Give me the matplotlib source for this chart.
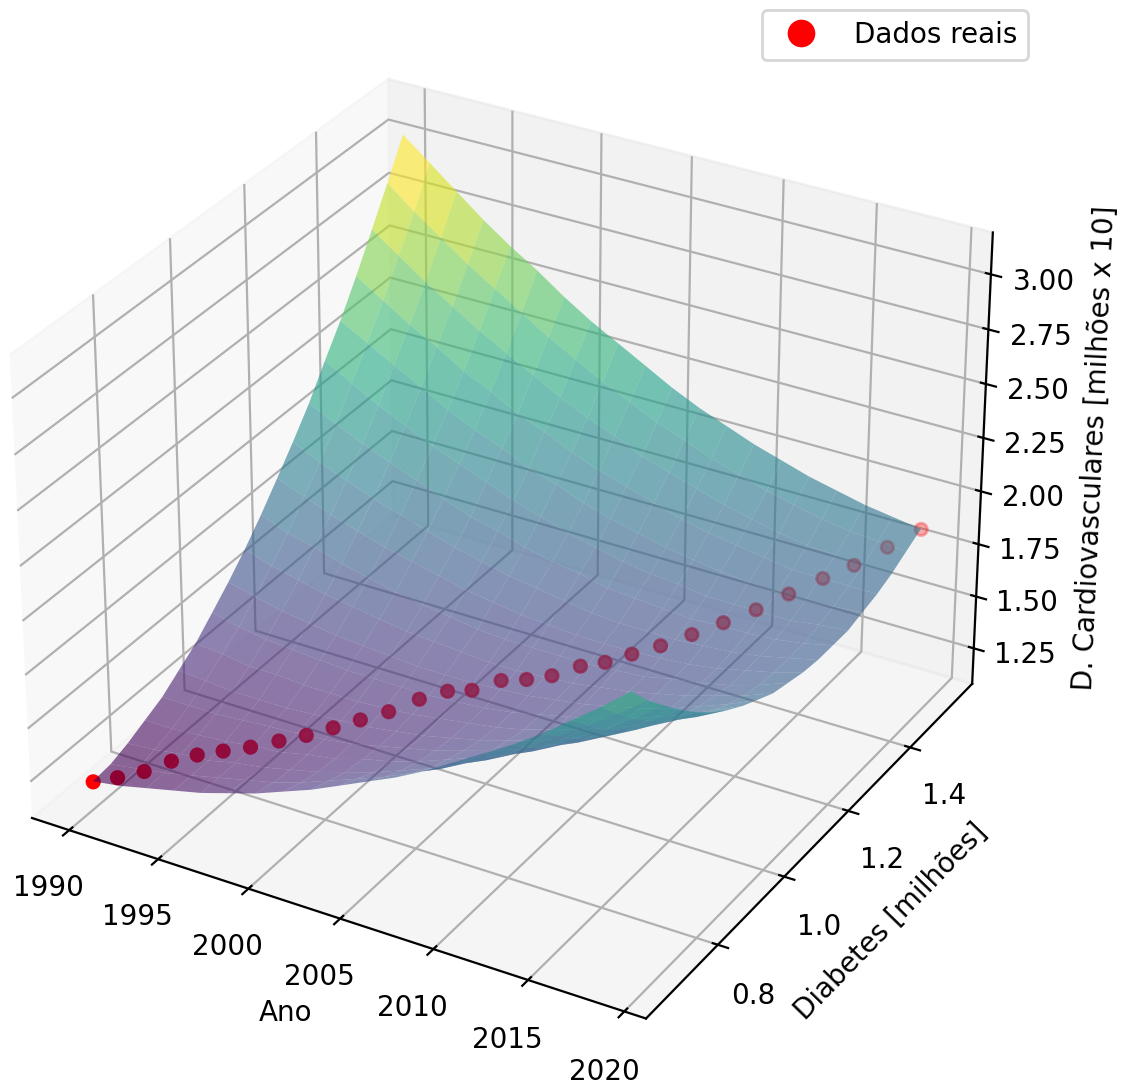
import numpy as np
import matplotlib
matplotlib.use('Agg')
import matplotlib.pyplot as plt

ANOS = list(range(1990, 2020))
DIABETES = [0.657, 0.675, 0.699, 0.725, 0.747, 0.769, 0.795, 0.824, 0.850, 0.875,
            0.901, 0.930, 0.966, 0.995, 1.013, 1.045, 1.066, 1.087, 1.117, 1.136,
            1.161, 1.192, 1.231, 1.271, 1.315, 1.359, 1.408, 1.448, 1.495, 1.544]
CARDIO = [1.206, 1.225, 1.245, 1.281, 1.304, 1.316, 1.322, 1.334, 1.348, 1.373,
          1.398, 1.420, 1.452, 1.473, 1.477, 1.502, 1.502, 1.515, 1.542, 1.558,
          1.586, 1.606, 1.628, 1.652, 1.675, 1.712, 1.741, 1.772, 1.816, 1.857]

GRADE_ANO = [1990, 1991.53, 1993.05, 1994.58, 1996.11, 1997.63, 1999.16, 2000.68, 2002.21, 2003.74,
             2005.26, 2006.79, 2008.32, 2009.84, 2011.37, 2012.89, 2014.42, 2015.95, 2017.47, 2019]
GRADE_DIAB = [.656, .703, .749, .796, .843, .889, .936, .983, 1.029, 1.076,
              1.123, 1.170, 1.216, 1.263, 1.310, 1.356, 1.403, 1.450, 1.496, 1.543]
# superficie, em centesimos (linhas: diabetes; colunas: ano)
SUPERFICIE = [
    [121,123,126,129,132,136,140,145,150,156,162,168,175,183,191,199,208,218,228,239],
    [122,124,126,129,132,135,138,142,147,152,157,163,169,176,183,191,200,209,218,228],
    [125,126,128,129,132,134,137,140,144,148,153,158,164,170,177,184,192,200,209,219],
    [129,129,130,131,133,134,137,139,143,146,150,155,160,165,171,178,185,193,201,210],
    [133,133,133,134,135,136,137,139,142,145,148,152,156,161,167,172,179,186,194,202],
    [139,138,137,137,137,138,139,140,142,144,147,150,154,158,163,168,174,181,188,195],
    [145,144,142,142,141,141,141,142,143,145,147,149,152,156,160,165,170,176,182,189],
    [153,150,148,147,146,145,145,145,145,146,147,149,152,155,158,162,167,172,178,184],
    [161,158,155,153,151,150,149,148,148,148,149,150,152,154,157,160,164,169,174,180],
    [170,166,163,160,158,156,154,153,152,151,151,152,153,155,157,160,163,167,171,176],
    [180,175,172,168,165,162,160,158,156,155,155,155,155,156,157,160,162,165,169,174],
    [191,186,181,177,173,170,167,164,162,160,159,158,158,158,159,160,162,165,168,172],
    [202,196,191,186,182,178,174,171,168,166,164,162,161,161,161,162,163,165,168,171],
    [214,208,202,197,192,187,182,179,175,172,170,167,166,165,164,165,165,166,168,171],
    [228,221,214,208,202,197,192,187,183,179,176,173,171,170,168,168,168,168,170,171],
    [241,234,227,220,213,207,202,196,192,187,183,180,177,175,173,172,171,171,172,173],
    [256,248,240,233,225,219,212,207,201,196,192,188,184,181,179,177,175,175,175,175],
    [272,263,254,246,238,231,224,217,211,206,200,196,192,188,185,182,180,179,178,178],
    [288,278,269,260,252,244,236,229,222,216,210,205,200,196,192,189,186,184,183,182],
    [305,295,285,275,266,258,249,241,234,227,220,214,209,204,200,196,193,190,188,186],
]
TICKS_ANO = [1990, 1995, 2000, 2005, 2010, 2015, 2020]
TICKS_DIAB = [0.8, 1.0, 1.2, 1.4]
TICKS_CARD = [1.25, 1.50, 1.75, 2.00, 2.25, 2.50, 2.75, 3.00]

W, H = 1127, 1084
L, cx, cy = 1093, 496, 541
fig = plt.figure(figsize=(W/200, H/200), dpi=200)
ax = fig.add_axes([(cx-L/2)/W, 1-(cy+L/2)/H, L/W, L/H], projection='3d')

XX, YY = np.meshgrid(GRADE_ANO, GRADE_DIAB)
ZZ = np.array(SUPERFICIE) / 100
ax.plot_surface(XX, YY, ZZ, cmap='viridis', alpha=0.6, shade=False)
ax.scatter(ANOS, DIABETES, CARDIO, c='r', label='Dados reais')

ax.set_xlim(1988.55, 2020.45, view_margin=1/48)
ax.set_ylim(0.656-0.04435, 1.543+0.04435, view_margin=1/48)
ax.set_zlim(1.2116-0.0921, 3.054+0.0921, view_margin=1/48)
ax.set_xticks(TICKS_ANO)
ax.set_yticks(TICKS_DIAB)
ax.set_zticks(TICKS_CARD)
ax.set_xlabel('Ano')
ax.set_ylabel('Diabetes [milhões]')
ax.set_zlabel('D. Cardiovasculares [milhões x 10]')
ax.legend(loc='upper right', bbox_to_anchor=(1028/W, 1-10/H), bbox_transform=fig.transFigure,
          borderaxespad=0, markerscale=2, scatteryoffsets=[0.5], handletextpad=0.9)
fig.savefig('out.png', dpi=200)
